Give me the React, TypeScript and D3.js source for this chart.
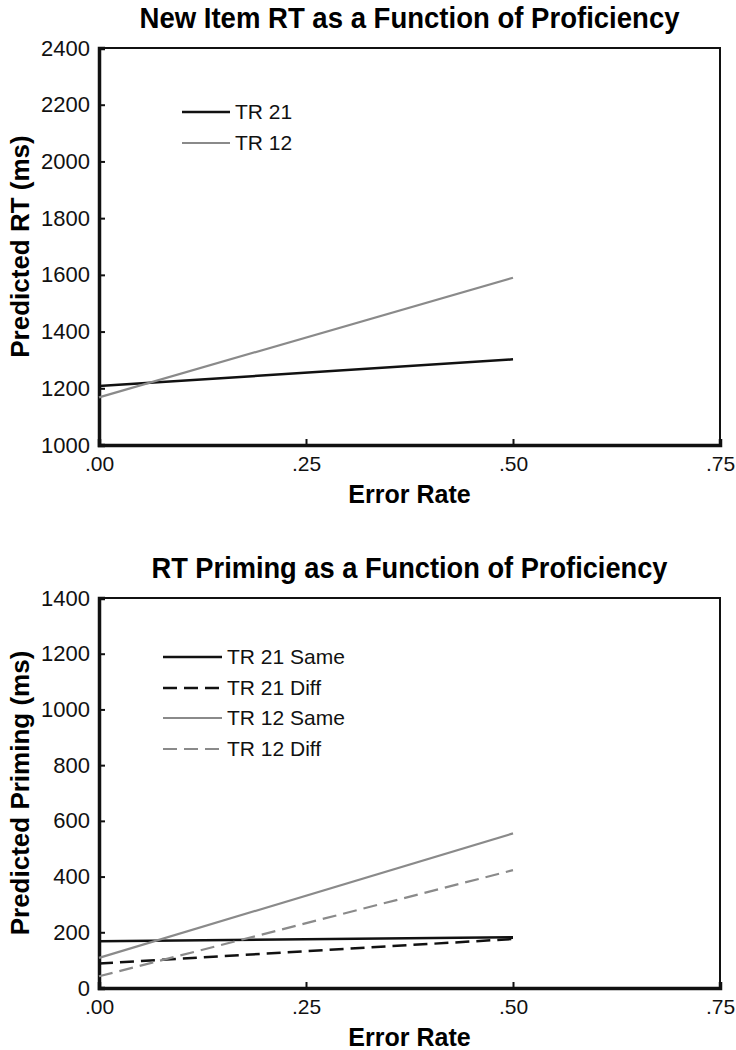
import React, { useEffect, useRef } from 'react';
import * as d3 from 'd3';

// error rate values where each regression line is drawn
const errorRates = [0, 0.5];
const xTicks = [0, 0.25, 0.5, 0.75];

// top panel: new item RT
const newItemSeries = ['TR 21', 'TR 12'];
const newItemTR21 = [1208, 1302];
const newItemTR12 = [1168, 1590];
const newItemTicks = [1000, 1200, 1400, 1600, 1800, 2000, 2200, 2400];

// bottom panel: RT priming
const primingSeries = ['TR 21 Same', 'TR 21 Diff', 'TR 12 Same', 'TR 12 Diff'];
const primingTR21Same = [168, 182];
const primingTR21Diff = [88, 176];
const primingTR12Same = [108, 555];
const primingTR12Diff = [42, 423];
const primingTicks = [0, 200, 400, 600, 800, 1000, 1200, 1400];

const FONT = '"Liberation Sans", Arial, Helvetica, sans-serif';
const NARROW = '"Liberation Sans Narrow", "Liberation Sans", Arial, sans-serif';
const BLACK = '#111';
const GRAY = '#8a8a8a';

type Panel = {
    title: string;
    titleWidth: number;
    yLabel: string;
    top: number;
    bottom: number;
    yDomain: [number, number];
    yTicks: number[];
    names: string[];
    values: number[][];
    colors: string[];
    dashes: (string | null)[];
    legendX: [number, number];
    legendY: number[];
};

export default function App() {
    const ref = useRef<SVGSVGElement>(null);

    useEffect(() => {
        const svg = d3.select(ref.current);
        svg.selectAll('*').remove();

        const panels: Panel[] = [
            {
                title: 'New Item RT as a Function of Proficiency',
                titleWidth: 540,
                yLabel: 'Predicted RT (ms)',
                top: 48, bottom: 445,
                yDomain: [1000, 2400],
                yTicks: newItemTicks,
                names: newItemSeries,
                values: [newItemTR21, newItemTR12],
                colors: [BLACK, GRAY],
                dashes: [null, null],
                legendX: [182, 230],
                legendY: [112, 143],
            },
            {
                title: 'RT Priming as a Function of Proficiency',
                titleWidth: 516,
                yLabel: 'Predicted Priming (ms)',
                top: 598, bottom: 988,
                yDomain: [0, 1400],
                yTicks: primingTicks,
                names: primingSeries,
                values: [primingTR21Same, primingTR21Diff, primingTR12Same, primingTR12Diff],
                colors: [BLACK, BLACK, GRAY, GRAY],
                dashes: [null, '14,7', null, '14,7'],
                legendX: [163, 222],
                legendY: [657, 688, 718, 749],
            },
        ];

        const left = 99, right = 720;

        panels.forEach((p) => {
            const x = d3.scaleLinear().domain([0, 0.75]).range([left, right]);
            const y = d3.scaleLinear().domain(p.yDomain).range([p.bottom, p.top]);
            const g = svg.append('g');

            // title
            g.append('text')
                .attr('x', (left + right) / 2)
                .attr('y', p.top - 20)
                .attr('text-anchor', 'middle')
                .attr('font-family', NARROW)
                .attr('font-weight', 'bold')
                .attr('font-size', 29)
                .attr('textLength', p.titleWidth)
                .attr('lengthAdjust', 'spacingAndGlyphs')
                .text(p.title);

            // frame
            g.append('rect')
                .attr('x', left).attr('y', p.top)
                .attr('width', right - left).attr('height', p.bottom - p.top)
                .attr('fill', 'none').attr('stroke', BLACK).attr('stroke-width', 2);

            // y axis (ticks point inward)
            const yAxis = g.append('g')
                .attr('transform', `translate(${left},0)`)
                .call(d3.axisLeft(y).tickValues(p.yTicks).tickSize(-6).tickPadding(9).tickFormat(d3.format('d')));
            yAxis.select('.domain').attr('stroke-width', 3.5).attr('stroke', BLACK);
            yAxis.selectAll('line').attr('stroke-width', 2).attr('stroke', BLACK);
            yAxis.selectAll('text')
                .attr('font-family', FONT).attr('font-size', 22).attr('fill', BLACK);

            // x axis
            const xAxis = g.append('g')
                .attr('transform', `translate(0,${p.bottom})`)
                .call(d3.axisBottom(x).tickValues(xTicks).tickSize(-6).tickPadding(11)
                    .tickFormat((d) => d3.format('.2f')(d as number).replace(/^0/, '')));
            xAxis.select('.domain').attr('stroke-width', 3.5).attr('stroke', BLACK);
            xAxis.selectAll('line').attr('stroke-width', 2).attr('stroke', BLACK);
            xAxis.selectAll('text')
                .attr('font-family', FONT).attr('font-size', 21).attr('fill', BLACK);

            // axis titles
            g.append('text')
                .attr('x', (left + right) / 2)
                .attr('y', p.bottom + 58)
                .attr('text-anchor', 'middle')
                .attr('font-family', FONT).attr('font-weight', 'bold').attr('font-size', 25)
                .text('Error Rate');

            g.append('text')
                .attr('transform', `translate(29,${(p.top + p.bottom) / 2}) rotate(-90)`)
                .attr('text-anchor', 'middle')
                .attr('font-family', FONT).attr('font-weight', 'bold').attr('font-size', 26)
                .text(p.yLabel);

            // regression lines
            const line = d3.line<number>()
                .x((d, i) => x(errorRates[i]))
                .y((d) => y(d));

            p.values.forEach((vals, i) => {
                g.append('path')
                    .datum(vals)
                    .attr('fill', 'none')
                    .attr('stroke', p.colors[i])
                    .attr('stroke-width', p.colors[i] === BLACK ? 2.5 : 2.2)
                    .attr('stroke-dasharray', p.dashes[i])
                    .attr('d', line);
            });

            // legend
            p.names.forEach((name, i) => {
                const ly = p.legendY[i];
                g.append('line')
                    .attr('x1', p.legendX[0]).attr('x2', p.legendX[1])
                    .attr('y1', ly).attr('y2', ly)
                    .attr('stroke', p.colors[i])
                    .attr('stroke-width', p.colors[i] === BLACK ? 2.5 : 2.2)
                    .attr('stroke-dasharray', p.dashes[i]);
                g.append('text')
                    .attr('x', p.legendX[1] + 5)
                    .attr('y', ly)
                    .attr('dy', '0.35em')
                    .attr('font-family', FONT).attr('font-size', 21).attr('fill', BLACK)
                    .text(name);
            });
        });
    }, []);

    return (
        <svg ref={ref} width={736} height={1050}
            style={{ position: 'absolute', left: 0, top: 0, background: '#fff' }} />
    );
}
